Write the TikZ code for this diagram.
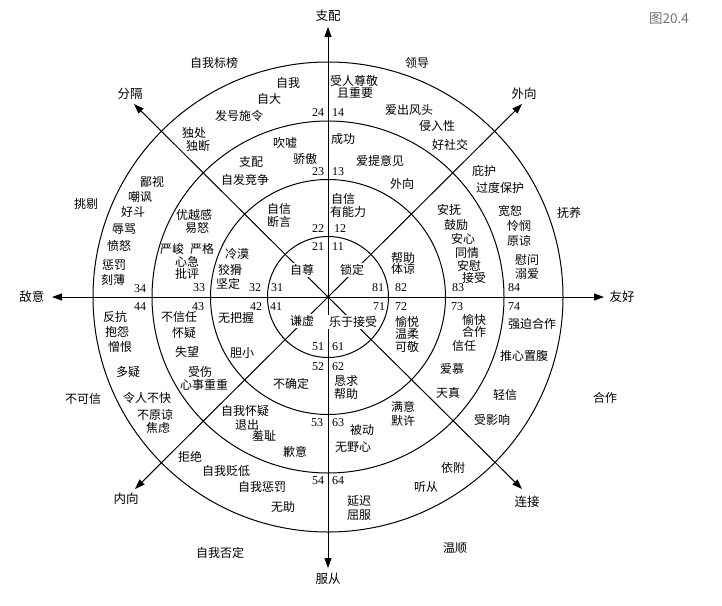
\documentclass[tikz,border=0pt]{standalone}
\usepackage{fontspec}
\setmainfont{Liberation Serif}
\newfontfamily\cjk{Noto Sans CJK SC}
\usetikzlibrary{arrows.meta}
\begin{document}
\begin{tikzpicture}[x=1pt,y=-1pt,
  ring/.style={line width=1pt},
  axisline/.style={line width=1pt,-{Triangle[length=10pt,width=7pt]}},
  lbl/.style={font=\cjk\fontsize{12}{13}\selectfont,inner sep=0pt},
  wlbl/.style={lbl,fill=white,inner sep=1.2pt},
  num/.style={font=\fontsize{12}{13}\selectfont,inner sep=0pt},
  axl/.style={font=\cjk\fontsize{12.5}{14}\selectfont,inner sep=0pt},
  figl/.style={font=\cjk\fontsize{13.5}{15}\selectfont,text=black!55,inner sep=0pt}
]
\useasboundingbox (0,0) rectangle (722,605);
\coordinate (O) at (328,297);
\coordinate (N) at (328,27);
\coordinate (S) at (328,568);
\coordinate (W) at (52,297);
\coordinate (E) at (604,297);
\coordinate (NW) at (134,104);
\coordinate (NE) at (522,104);
\coordinate (SW) at (135,489);
\coordinate (SE) at (522,489);
% rings
\foreach \r in {60.5,117.5,176,235}
  \draw[ring] (O) circle[radius=\r pt];
% axes
\foreach \t in {N,S,W,E,NW,NE,SW,SE}
  \draw[axisline] (O) -- (\t);
\fill (O) circle[radius=1.8pt];
% axis labels
\node[axl] (lN) at (328,16) {支配};
\node[axl] (lS) at (328,579) {服从};
\node[axl] (lW) at (32,297) {敌意};
\node[axl] (lE) at (622,297) {友好};
\node[axl] (lNW) at (130,94) {分隔};
\node[axl] (lNE) at (524,94) {外向};
\node[axl] (lSW) at (126,499) {内向};
\node[axl] (lSE) at (527,502) {连接};
\node[figl] (fig) at (669,19) {图20.4};
% inner labels on the diagonals
\node[wlbl] (c1) at (302,270) {自尊};
\node[wlbl] (c2) at (352,270) {锁定};
\node[wlbl] (c3) at (302,321) {谦虚};
\node[wlbl] (c4) at (353,322) {乐于接受};
% numbers
\foreach \x/\y/\t in {
  338/247/11, 318/247/21, 340/229/12, 318/229/22, 338/172/13, 318/172/23, 338/113/14, 318/113/24,
  277/288/31, 255/288/32, 199/288/33, 140/289/34,
  276/307/41, 256/307/42, 198/307/43, 140/307/44,
  318/347/51, 338/347/61, 318/367/52, 338/367/62, 317/423/53, 338/423/63, 318/481/54, 338/481/64,
  379/307/71, 401/307/72, 457/307/73, 514/307/74,
  378/288/81, 401/288/82, 458/288/83, 514/288/84}
  \node[num] (n\t) at (\x,\y) {\t};
% words
\foreach \x/\y/\t [count=\i] in {
  214/63/自我标榜, 288/83/自我, 269/99/自大, 239/116/发号施令,
  285/143/吹嘘, 305/159/骄傲, 251/162/支配, 245/180/自发竞争,
  279/209/自信, 279/222/断言,
  194/133/独处, 198/146/独断, 152/182/鄙视, 140/197/嘲讽, 133/212/好斗,
  124/229/辱骂, 119/246/愤怒, 114/265/惩罚, 113/280/刻薄,
  194/215/优越感, 197/228/易怒, 187/249/严峻\hspace{6pt}严格, 187/262/心急, 187/274/批评,
  237/254/冷漠, 230/270/狡猾, 228/284/坚定, 86/204/挑剔,
  115/317/反抗, 117/332/抱怨, 120/347/憎恨, 128/372/多疑,
  147/398/令人不快, 155/415/不原谅, 158/428/焦虑,
  179/317/不信任, 184/333/怀疑, 187/352/失望, 200/372/受伤, 204/385/心事重重,
  236/318/无把握, 242/353/胆小, 83/399/不可信,
  190/457/拒绝, 226/471/自我贬低, 262/487/自我惩罚, 283/507/无助,
  245/411/自我怀疑, 247/425/退出, 264/436/羞耻, 295/452/歉意,
  291/384/不确定, 220/553/自我否定,
  346/381/恳求, 346/394/帮助, 362/430/被动, 353/447/无野心,
  359/501/延迟, 359/515/屈服, 455/548/温顺,
  407/322/愉悦, 407/334/温柔, 407/347/可敬,
  474/320/愉快, 474/332/合作, 464/346/信任, 452/369/爱慕, 448/393/天真,
  403/407/满意, 403/421/默许,
  532/324/强迫合作, 524/356/推心置腹, 505/395/轻信, 492/420/受影响,
  453/468/依附, 426/487/听从, 605/398/合作,
  403/258/帮助, 403/269/体谅,
  449/210/安抚, 456/225/鼓励, 463/239/安心, 467/253/同情, 469/266/安慰, 474/278/接受,
  510/211/宽恕, 519/226/怜悯, 519/241/原谅, 527/260/慰问, 527/274/溺爱,
  484/171/庇护, 500/188/过度保护, 569/213/抚养,
  343/199/自信, 348/212/有能力,
  343/139/成功, 380/161/爱提意见, 402/184/外向,
  354/81/受人尊敬, 355/93/且重要, 409/110/爱出风头, 437/126/侵入性, 450/145/好社交,
  417/63/领导}
  \node[lbl] (w\i) at (\x,\y) {\t};
\end{tikzpicture}
\end{document}
